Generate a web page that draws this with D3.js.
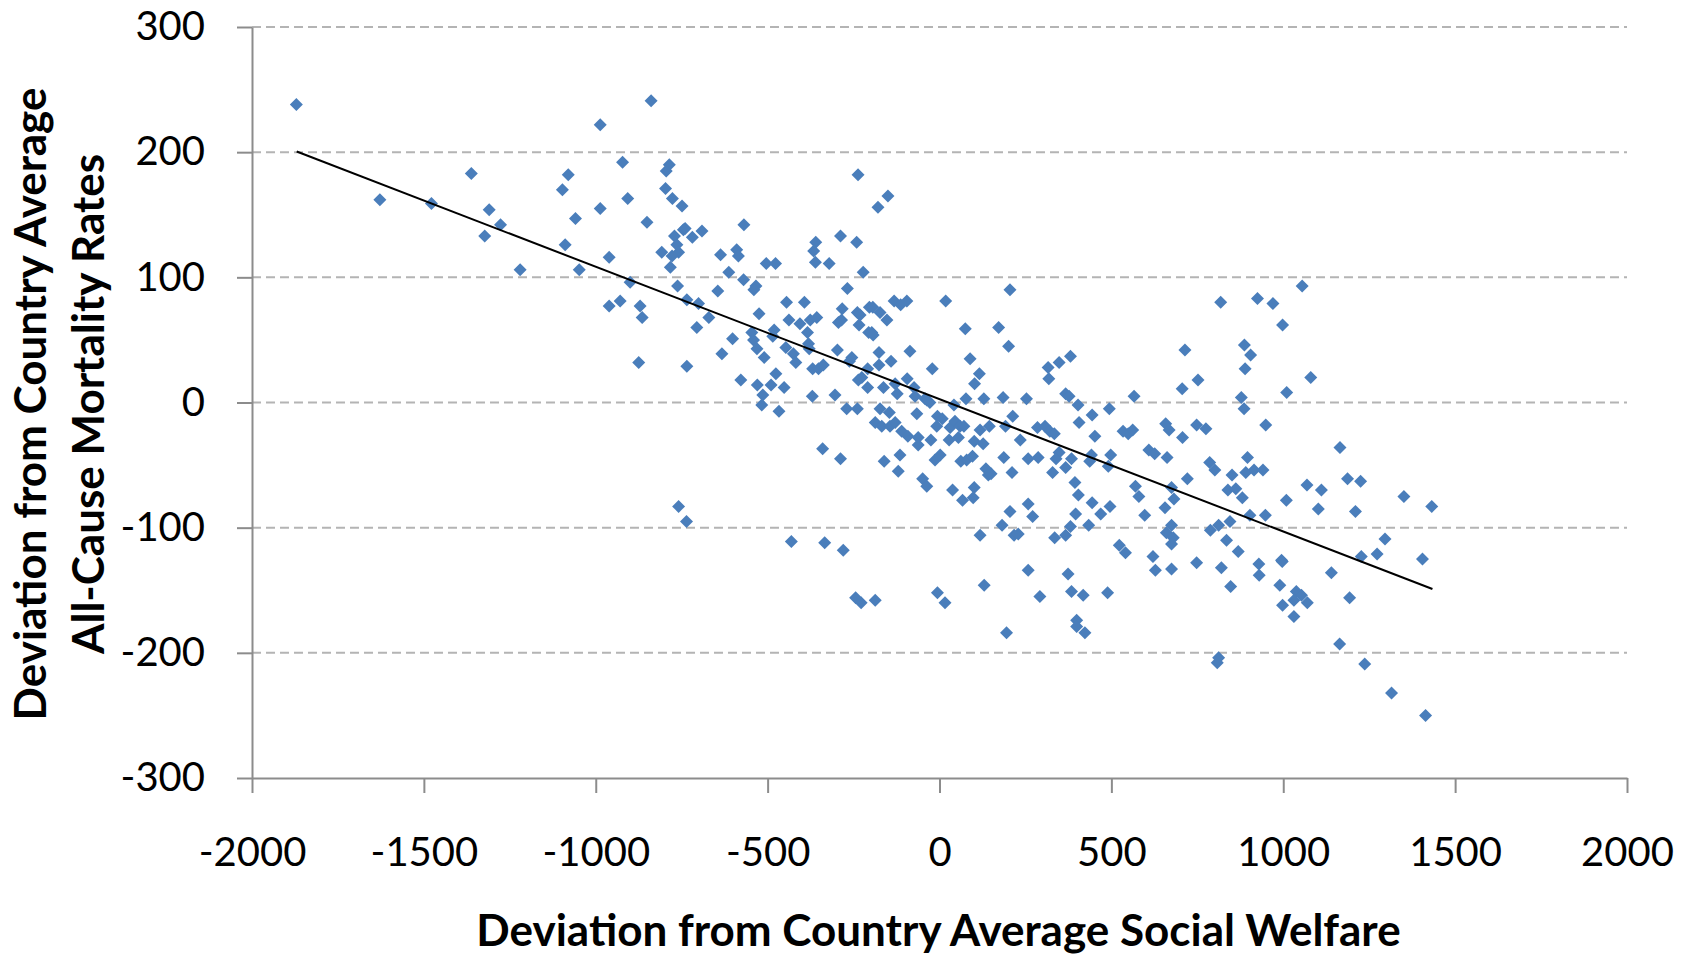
<!DOCTYPE html>
<html>
<head>
<meta charset="utf-8">
<script src="https://cdn.jsdelivr.net/npm/d3@7"></script>
<style>
  body { margin: 0; background: #fff; }
  svg text { font-family: Lato, "Open Sans", sans-serif; fill: #000; }
  .tick text { font-size: 40px; }
  .axisTitle { font-size: 44px; font-weight: bold; }
</style>
</head>
<body>
<div id="scatter"></div>
<script>
// Data: [welfare deviation, mortality deviation]
var points = [
  [-1871,238],[-1628,162],[-1478,159],[-1362,183],[-1310,154],[-1277,142],[-1323,133],[-1220,106],
  [-1080,182],[-1097,170],[-1059,147],[-1089,126],[-1048,106],
  [-839,241],[-987,222],[-922,192],[-786,190],[-795,185],[-797,171],[-777,163],[-749,157],[-907,163],
  [-987,155],[-851,144],[-961,116],[-808,120],[-745,138],[-740,139],[-771,133],[-719,132],[-691,137],
  [-764,126],[-759,120],[-778,117],[-783,108],[-900,96],[-762,93],[-961,77],[-929,81],[-871,77],
  [-865,68],[-875,32],[-735,82],[-701,79],[-671,68],[-706,60],[-735,29],[-569,142],[-637,118],
  [-590,122],[-585,117],[-613,104],[-570,98],[-645,89],[-534,93],[-540,90],[-504,111],[-477,111],
  [-360,128],[-366,121],[-361,112],[-321,111],[-288,133],[-241,128],[-237,182],[-222,104],[-268,91],
  [-525,71],[-602,51],[-633,39],[-546,56],[-541,50],[-531,43],[-510,36],[-578,18],[-530,14],[-514,6],
  [-490,14],[-476,23],[-452,12],[-481,58],[-485,53],[-445,80],[-438,66],[-406,63],[-393,80],[-376,66],
  [-357,68],[-384,56],[-381,47],[-379,43],[-447,44],[-425,39],[-418,32],[-369,27],[-352,27],[-338,30],
  [-370,5],[-304,6],[-283,75],[-294,64],[-285,66],[-239,72],[-231,70],[-234,62],[-204,76],[-206,56],
  [-297,42],[-255,36],[-262,33],[-236,18],[-226,20],[-209,27],[-209,12],
  [-150,165],[-179,156],[205,90],[-132,81],[-113,78],[-95,81],[18,81],[-194,76],[-173,72],[-153,66],
  [-197,56],[-193,54],[75,59],[172,60],[201,45],[-86,41],[-176,40],[89,35],[-141,33],[-176,30],
  [-21,27],[116,23],[102,15],[316,28],[318,19],[348,32],[381,37],[-163,12],[-129,15],[-94,19],
  [-74,12],[-123,7],[-71,5],[-42,3],[77,3],[129,3],[185,4],[253,3],[367,7],[377,5],[566,5],
  [1055,93],[818,80],[925,83],[970,79],[998,62],[714,42],[887,46],[905,38],[889,27],[1080,20],
  [752,18],[706,11],[878,4],[1010,8],
  [-517,-2],[-467,-7],[-270,-5],[-239,-5],[-340,-37],[-288,-45],[-759,-83],[-736,-95],[-431,-111],
  [-334,-112],[-280,-118],[-244,-156],[-228,-160],
  [-28,0],[-37,2],[-173,-5],[-146,-8],[-66,-9],[-6,-11],[8,-13],[42,-2],[213,-11],[403,-2],[444,-10],
  [494,-5],[-187,-16],[-168,-19],[-144,-19],[-129,-16],[-110,-23],[-92,-27],[-62,-28],[-62,-34],
  [-25,-30],[-8,-19],[31,-20],[45,-15],[60,-19],[71,-19],[28,-30],[55,-28],[101,-31],[127,-33],
  [118,-22],[145,-19],[192,-19],[235,-30],[285,-20],[307,-19],[321,-23],[334,-25],[406,-16],[452,-27],
  [534,-23],[549,-25],[562,-22],[609,-38],[626,-41],[-115,-42],[-161,-47],[-120,-55],[-13,-46],[2,-42],
  [62,-47],[79,-46],[96,-43],[135,-53],[142,-58],[150,-57],[187,-44],[211,-56],[258,-45],[287,-44],
  [348,-40],[339,-45],[329,-56],[367,-52],[384,-45],[442,-42],[437,-47],[498,-42],[491,-51],[-49,-61],
  [-37,-67],[38,-70],[101,-68],[98,-76],[67,-78],[394,-64],[404,-74],[444,-80],[496,-83],[469,-89],
  [570,-67],[580,-75],[597,-90],[258,-81],[271,-91],[205,-87],[182,-98],[118,-106],[217,-106],[229,-105],
  [396,-89],[381,-99],[367,-106],[335,-108],[434,-98],[523,-114],[541,-120],[621,-123],[628,-134],
  [258,-134],[374,-137],[130,-146],[292,-155],[384,-151],[418,-154],[489,-152],[-6,-152],[16,-160],
  [-187,-158],[399,-174],[399,-179],[423,-184],[195,-184],
  [886,-5],[658,-17],[668,-22],[748,-18],[775,-21],[707,-28],[949,-18],[1165,-36],[662,-44],[786,-48],
  [801,-54],[896,-44],[891,-56],[915,-54],[941,-54],[851,-58],[721,-61],[675,-68],[682,-77],[656,-84],
  [839,-70],[862,-69],[881,-76],[903,-90],[948,-90],[1009,-78],[1069,-66],[1111,-70],[1102,-85],
  [1187,-61],[1225,-63],[1210,-87],[1351,-75],[1432,-83],[675,-98],[660,-104],[680,-108],[675,-113],
  [788,-102],[812,-98],[845,-95],[835,-110],[869,-119],[675,-133],[748,-128],[820,-132],[929,-129],
  [930,-138],[847,-147],[995,-126],[997,-127],[990,-146],[1038,-151],[1053,-154],[1031,-158],[1070,-160],
  [998,-162],[1031,-171],[1227,-123],[1273,-121],[1296,-109],[1405,-125],[1140,-136],[1193,-156],
  [1164,-193],[812,-204],[808,-208],[1237,-209],[1315,-232],[1414,-250]
];

// Linear trend line ends
var trendX = [-1870, 1434];
var trendY = [200.5, -149];

var xTicks = [-2000, -1500, -1000, -500, 0, 500, 1000, 1500, 2000];
var yTicks = [-300, -200, -100, 0, 100, 200, 300];
var gridY = [-200, -100, 0, 100, 200, 300];

var xTitle = "Deviation from Country Average Social Welfare";
var yTitle = ["Deviation from Country Average", "All-Cause Mortality Rates"];

var svgWidth = 1694;
var svgHeight = 956;
var margin = { top: 27, right: 67, bottom: 178, left: 252 };
var width = svgWidth - margin.left - margin.right;
var height = svgHeight - margin.top - margin.bottom;

var svg = d3.select("#scatter")
  .append("svg")
  .attr("width", svgWidth)
  .attr("height", svgHeight);

var chartGroup = svg.append("g")
  .attr("transform", `translate(${margin.left}, ${margin.top})`);

var xScale = d3.scaleLinear().domain([-2000, 2000]).range([0, width]);
var yScale = d3.scaleLinear().domain([-300, 300]).range([height, 0]);

// plain labels: hyphen minus, no thousands separator
var plain = d => String(d);

// dashed horizontal gridlines
chartGroup.selectAll(".grid")
  .data(gridY)
  .enter()
  .append("line")
  .attr("class", "grid")
  .attr("x1", 0)
  .attr("x2", width)
  .attr("y1", d => yScale(d))
  .attr("y2", d => yScale(d))
  .attr("stroke", "#b4b4b4")
  .attr("stroke-width", 2)
  .attr("stroke-dasharray", "9,5");

var xAxis = d3.axisBottom(xScale).tickValues(xTicks).tickFormat(plain)
  .tickSize(15).tickSizeOuter(0).tickPadding(45);
var yAxis = d3.axisLeft(yScale).tickValues(yTicks).tickFormat(plain)
  .tickSize(15).tickSizeOuter(0).tickPadding(32);

var gx = chartGroup.append("g")
  .attr("transform", `translate(0, ${height})`)
  .call(xAxis);

var gy = chartGroup.append("g")
  .call(yAxis);

[gx, gy].forEach(function(g) {
  g.select(".domain").attr("stroke", "#8c8c8c").attr("stroke-width", 2);
  g.selectAll(".tick line").attr("stroke", "#8c8c8c").attr("stroke-width", 2);
  g.selectAll(".tick text").attr("fill", "#000");
});

// scatter markers (diamonds)
chartGroup.selectAll(".pt")
  .data(points)
  .enter()
  .append("path")
  .attr("class", "pt")
  .attr("d", "M0,-6.5L6.5,0L0,6.5L-6.5,0Z")
  .attr("transform", d => `translate(${xScale(d[0])}, ${yScale(d[1])})`)
  .attr("fill", "#4a7ebb");

// trend line
chartGroup.append("line")
  .attr("x1", xScale(trendX[0]))
  .attr("y1", yScale(trendY[0]))
  .attr("x2", xScale(trendX[1]))
  .attr("y2", yScale(trendY[1]))
  .attr("stroke", "#000")
  .attr("stroke-width", 2);

// axis titles
svg.append("text")
  .attr("class", "axisTitle")
  .attr("x", margin.left + width / 2 - 1)
  .attr("y", 946)
  .attr("text-anchor", "middle")
  .text(xTitle);

svg.selectAll(".ytitle")
  .data(yTitle)
  .enter()
  .append("text")
  .attr("class", "axisTitle ytitle")
  .attr("transform", (d, i) => `translate(${46 + i * 58}, 404) rotate(-90)`)
  .attr("text-anchor", "middle")
  .text(d => d);
</script>
</body>
</html>
